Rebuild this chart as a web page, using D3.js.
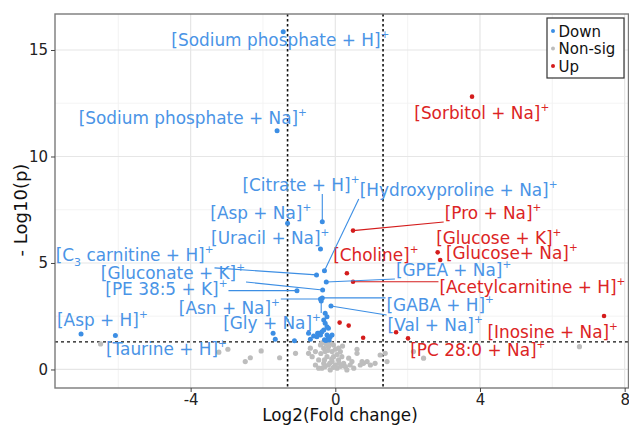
<!DOCTYPE html>
<html><head><meta charset="utf-8">
<script src="https://cdn.jsdelivr.net/npm/d3@7"></script>
<style>body{margin:0;background:#fff} svg{font-family:"DejaVu Sans",Verdana,sans-serif}</style>
</head><body><svg id="c" width="629" height="428"></svg>
<script>
// ---------- data ----------
const xTicks = [-4, 0, 4, 8];
const yTicks = [0, 5, 10, 15];
const xMinor = [-6, -2, 2, 6];
const yMinor = [2.5, 7.5, 12.5];
const fcThreshold = 1.32;   // log2(2.5)
const pThreshold = 1.30;    // -log10(0.05)
const legendLabels = ["Down", "Non-sig", "Up"];

const downX = [-1.44,-1.61,-0.36,-1.32,-0.41,-0.30,-0.52,-0.35,-1.06,-0.25,-0.41,-0.39,-0.36,-0.12,
  -7.03,-6.08,-1.72,-1.66,-1.13,-0.74,-0.60,-0.49,
  -0.28,-0.23,-0.32,-0.28,-0.23,-0.19,-0.32,-0.37,-0.46,-0.41,-0.23,-0.14,-0.09,-0.51,-0.69,-0.30,-0.20,-0.26,-0.17];
const downY = [15.86,11.21,6.94,6.86,5.66,4.64,4.44,3.73,3.70,4.11,3.31,3.22,3.36,2.98,
  1.67,1.59,1.70,1.42,1.35,1.70,1.57,1.70,
  2.64,2.48,2.32,2.17,2.01,1.93,1.85,1.77,1.70,1.62,1.62,1.54,1.62,1.54,1.42,1.40,1.45,1.36,1.38];

const nonsigX = [-6.49,-3.22,-2.97,-2.49,-2.35,-2.05,-1.54,-1.10,
  -0.74,-0.64,-0.55,-0.46,-0.41,-0.37,-0.32,-0.28,-0.23,-0.32,-0.37,-0.29,-0.19,-0.14,-0.09,-0.19,-0.14,-0.09,-0.05,
  0.00,0.05,0.09,0.14,0.18,0.23,0.28,0.32,0.37,0.41,0.46,0.51,0.60,0.69,0.78,0.88,0.97,-0.69,-0.55,-0.46,-0.05,0.09,
  -0.30,-0.20,-0.10,0.00,-0.25,0.05,-0.15,0.15,-0.40,0.20,-0.05,0.10,
  0.60,0.74,1.10,1.24,1.38,1.43,2.16,2.44,6.75];
const nonsigY = [1.20,0.81,0.95,0.37,0.55,0.87,0.55,0.76,
  0.76,0.60,0.84,0.45,1.15,1.25,1.00,0.84,0.60,0.29,0.06,0.13,0.21,-0.02,0.37,1.07,1.23,0.84,0.60,
  0.21,0.06,0.45,0.84,0.60,0.29,0.13,-0.02,0.53,0.21,0.37,0.06,0.76,0.21,0.29,0.37,0.21,1.00,0.21,0.06,1.15,1.00,
  0.45,0.90,0.50,0.95,1.20,0.70,0.30,0.15,0.75,1.10,0.10,0.30,
  0.95,0.37,0.29,0.68,0.76,0.37,0.84,0.53,1.07];

const upX = [0.49,0.32,0.49,2.83,2.90,3.78,7.43,2.01,1.68,0.12,0.37,0.77];
const upY = [6.52,4.52,4.12,5.50,5.14,12.81,2.51,1.46,1.75,2.20,2.06,1.49];

// labels: text ("^" superscript, "_" subscript), group, labelled point, label centre (data units), leader flag
const labelText = ["[Sodium phosphate + H]^+","[Sodium phosphate + Na]^+","[Sorbitol + Na]^+","[Citrate + H]^+",
  "[Hydroxyproline + Na]^+","[Asp + Na]^+","[Uracil + Na]^+","[Pro + Na]^+","[Glucose + K]^+","[Glucose+ Na]^+",
  "[Choline]^+","[C_3 carnitine + H]^+","[GPEA + Na]^+","[Gluconate + K]^+","[PE 38:5 + K]^+",
  "[Acetylcarnitine + H]^+","[Asn + Na]^+","[GABA + H]^+","[Gly + Na]^+","[Val + Na]^+","[Inosine + Na]^+",
  "[Asp + H]^+","[Taurine + H]^+","[PC 28:0 + Na]^+"];
const labelGroup = ["Down","Down","Up","Down","Down","Down","Down","Up","Up","Up","Up","Down","Down","Down","Down",
  "Up","Down","Down","Down","Down","Up","Down","Down","Up"];
const labelPointX = [-1.44,-1.61,3.78,-0.36,-0.30,-1.32,-0.41,0.49,2.83,2.90,0.32,-0.52,-0.25,-0.35,-1.06,
  0.49,-0.41,-0.36,-0.39,-0.12,7.43,-7.03,-6.08,2.01];
const labelPointY = [15.86,11.21,12.81,6.94,4.64,6.86,5.66,6.52,5.50,5.14,4.52,4.44,4.11,3.73,3.70,
  4.12,3.31,3.36,3.22,2.98,2.51,1.67,1.59,1.46];
const labelX = [-1.52,-3.94,4.05,-0.95,3.41,-2.06,-1.80,4.36,4.52,4.88,1.12,-5.55,3.27,-4.49,-4.67,
  5.45,-2.93,2.90,-1.75,2.76,6.01,-6.44,-4.67,3.94];
const labelY = [15.47,11.81,12.04,8.66,8.43,7.35,6.17,7.35,6.17,5.47,5.38,5.38,4.67,4.53,3.78,
  3.87,2.89,3.03,2.18,2.09,1.76,2.32,0.96,0.92];
const labelLeader = [0,0,0,1,1,0,0,1,0,0,0,1,1,1,1,1,1,1,1,1,0,0,0,0];

// ---------- drawing ----------
const W = 629, H = 428;
const P = {l: 55, r: 628.5, t: 14, b: 388};
const colors = {Down: "#3c8ee4", "Non-sig": "#bdbdbd", Up: "#d41c1c"};
const textColors = {Down: "#4a94e6", Up: "#dc2424"};

const x = d3.scaleLinear().domain([-7.75, 8.12]).range([P.l, 629]);
const y = d3.scaleLinear().domain([-0.87, 16.69]).range([P.b, P.t]);

const svg = d3.select("#c");
svg.append("rect").attr("width", W).attr("height", H).attr("fill", "#fff");

svg.append("clipPath").attr("id", "pc").append("rect")
  .attr("x", P.l).attr("y", P.t).attr("width", P.r - P.l).attr("height", P.b - P.t);

const g = svg.append("g");
// grid
g.selectAll(".xm").data(xMinor).join("line").attr("x1", d => x(d)).attr("x2", d => x(d))
  .attr("y1", P.t).attr("y2", P.b).attr("stroke", "#f0f0f0").attr("stroke-width", 0.8);
g.selectAll(".ym").data(yMinor).join("line").attr("y1", d => y(d)).attr("y2", d => y(d))
  .attr("x1", P.l).attr("x2", P.r).attr("stroke", "#f0f0f0").attr("stroke-width", 0.8);
g.selectAll(".xM").data(xTicks).join("line").attr("x1", d => x(d)).attr("x2", d => x(d))
  .attr("y1", P.t).attr("y2", P.b).attr("stroke", "#e6e6e6").attr("stroke-width", 1.2);
g.selectAll(".yM").data(yTicks).join("line").attr("y1", d => y(d)).attr("y2", d => y(d))
  .attr("x1", P.l).attr("x2", P.r).attr("stroke", "#e6e6e6").attr("stroke-width", 1.2);

// threshold lines
const th = svg.append("g").attr("clip-path", "url(#pc)");
[-fcThreshold, fcThreshold].forEach(v => th.append("line")
  .attr("x1", x(v)).attr("x2", x(v)).attr("y1", P.t).attr("y2", P.b)
  .attr("stroke", "#111").attr("stroke-width", 1.6).attr("stroke-dasharray", "2.5,2.5"));
th.append("line").attr("x1", P.l).attr("x2", P.r).attr("y1", y(pThreshold)).attr("y2", y(pThreshold))
  .attr("stroke", "#111").attr("stroke-width", 1.3).attr("stroke-dasharray", "3,3");

// points
const pts = svg.append("g").attr("clip-path", "url(#pc)");
function drawPts(xs, ys, col, r) {
  pts.append("g").selectAll("circle").data(xs.map((v, i) => [v, ys[i]])).join("circle")
    .attr("cx", d => x(d[0])).attr("cy", d => y(d[1])).attr("r", r).attr("fill", col);
}
drawPts(nonsigX, nonsigY, colors["Non-sig"], 2.6);
drawPts(downX, downY, colors.Down, 2.5);
drawPts(upX, upY, colors.Up, 2.3);

// labels
const lab = svg.append("g");
const segs = svg.append("g");
labelText.forEach((t, i) => {
  const col = textColors[labelGroup[i]];
  const tx = lab.append("text").attr("x", x(labelX[i])).attr("y", y(labelY[i]) + 6)
    .attr("text-anchor", "middle").attr("font-size", 16.9).attr("fill", col);
  const re = /(\^|_)(.)/g;
  let last = 0, m, shift = 0;
  while ((m = re.exec(t)) !== null) {
    if (m.index > last) { tx.append("tspan").attr("dy", -shift).text(t.slice(last, m.index)); shift = 0; }
    if (m[1] === "^") { tx.append("tspan").attr("dy", -8 - shift).attr("font-size", 10.5).text(m[2]); shift = -8; }
    else { tx.append("tspan").attr("dy", 5 - shift).attr("font-size", 11).text(m[2]); shift = 5; }
    last = m.index + 2;
  }
  if (last < t.length) tx.append("tspan").attr("dy", -shift).text(t.slice(last));
  if (labelLeader[i]) {
    const b = tx.node().getBBox();
    const px = x(labelPointX[i]), py = y(labelPointY[i]);
    const bx = {x0: b.x - 1, x1: b.x + b.width + 1, y0: b.y + 2, y1: b.y + b.height - 1};
    const cx = Math.max(bx.x0, Math.min(px, bx.x1));
    const cy = Math.max(bx.y0, Math.min(py, bx.y1));
    segs.append("line").attr("x1", cx).attr("y1", cy).attr("x2", px).attr("y2", py)
      .attr("stroke", colors[labelGroup[i]]).attr("stroke-width", 1.1);
  }
});

// panel border
svg.append("rect").attr("x", P.l).attr("y", P.t).attr("width", P.r - P.l).attr("height", P.b - P.t)
  .attr("fill", "none").attr("stroke", "#7a7a7a").attr("stroke-width", 1.4);

// axes
const fmt = d => String(d);
const xa = svg.append("g").attr("transform", `translate(0,${P.b})`)
  .call(d3.axisBottom(x).tickValues(xTicks).tickSize(4).tickPadding(2).tickFormat(fmt));
const ya = svg.append("g").attr("transform", `translate(${P.l},0)`)
  .call(d3.axisLeft(y).tickValues(yTicks).tickSize(4).tickPadding(3).tickFormat(fmt));
[xa, ya].forEach(a => {
  a.select(".domain").remove();
  a.selectAll("line").attr("stroke", "#444");
  a.selectAll("text").attr("font-size", 15).attr("fill", "#222").attr("font-family", "DejaVu Sans");
});

svg.append("text").attr("x", (P.l + 629) / 2 - 2).attr("y", 421).attr("text-anchor", "middle")
  .attr("font-size", 16.8).attr("fill", "#111").text("Log2(Fold change)");
svg.append("text").attr("transform", `translate(26.5,210) rotate(-90)`)
  .attr("text-anchor", "middle").attr("font-size", 18).attr("fill", "#111").text("- Log10(p)");

// legend
const lg = svg.append("g");
lg.append("rect").attr("x", 547).attr("y", 18).attr("width", 77).attr("height", 60)
  .attr("fill", "#fff").attr("stroke", "#333").attr("stroke-width", 1.2);
legendLabels.forEach((k, i) => {
  lg.append("circle").attr("cx", 553).attr("cy", 31 + i * 17.5).attr("r", 2).attr("fill", colors[k]);
  lg.append("text").attr("x", 558.5).attr("y", 31 + i * 17.5 + 5.5).attr("font-size", 15)
    .attr("fill", "#111").text(k);
});
</script></body></html>
